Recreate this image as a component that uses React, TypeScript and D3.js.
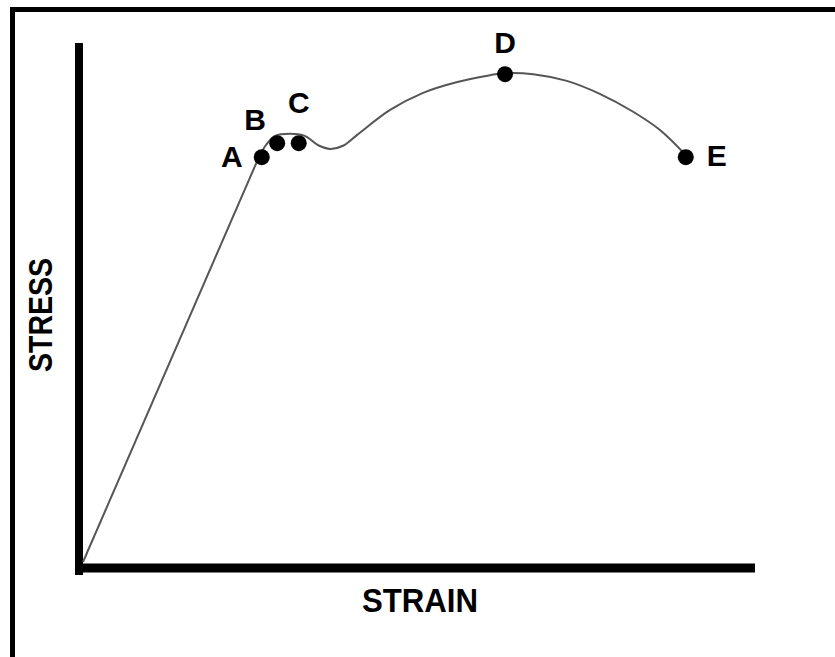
import React from "react";
import { scaleLinear, line, curveCatmullRom } from "d3";

// strain / stress, both as fraction of the axis length
const elasticStrain = [0, 0.26];
const elasticStress = [0, 0.775];

const plasticStrain = [0.26, 0.272, 0.286, 0.308, 0.33, 0.35, 0.368, 0.387, 0.408, 0.457, 0.506, 0.557, 0.606, 0.628, 0.67, 0.72, 0.769, 0.818, 0.859, 0.897];
const plasticStress = [0.775, 0.803, 0.821, 0.825, 0.821, 0.803, 0.796, 0.802, 0.823, 0.871, 0.904, 0.925, 0.938, 0.942, 0.94, 0.927, 0.902, 0.868, 0.832, 0.784];

const pointNames = ["A", "B", "C", "D", "E"];
const pointStrain = [0.266, 0.289, 0.321, 0.628, 0.897];
const pointStress = [0.78, 0.807, 0.807, 0.94, 0.78];

const W = 835;
const H = 657;

export default function App() {
  const x = scaleLinear().domain([0, 1]).range([83, 755]);
  const y = scaleLinear().domain([0, 1]).range([562, 43]);

  const path = line<[number, number]>()
    .x((d) => x(d[0]))
    .y((d) => y(d[1]));
  const smooth = line<[number, number]>()
    .x((d) => x(d[0]))
    .y((d) => y(d[1]))
    .curve(curveCatmullRom.alpha(0.5));

  const elastic = elasticStrain.map((s, i) => [s, elasticStress[i]] as [number, number]);
  const plastic = plasticStrain.map((s, i) => [s, plasticStress[i]] as [number, number]);

  // where each letter sits relative to its dot
  const labelPos: Record<string, { dx: number; dy: number; anchor: string }> = {
    A: { dx: -19, dy: 10, anchor: "end" },
    B: { dx: -22, dy: -13, anchor: "middle" },
    C: { dx: 0, dy: -30, anchor: "middle" },
    D: { dx: 0, dy: -21, anchor: "middle" },
    E: { dx: 21, dy: 9, anchor: "start" },
  };

  const font = "'Liberation Sans', Arial, Helvetica, sans-serif";

  return (
    <svg
      width={W}
      height={H}
      style={{ position: "absolute", left: 0, top: 0, background: "#fff" }}
    >
      {/* frame (top and left only) */}
      <line x1={10} x2={W} y1={9.5} y2={9.5} stroke="#000" strokeWidth={5} />
      <line x1={12.5} x2={12.5} y1={7} y2={H} stroke="#000" strokeWidth={5} />

      {/* axes */}
      <line x1={x(0) - 4} x2={x(0) - 4} y1={y(1)} y2={y(0) + 13} stroke="#000" strokeWidth={8} />
      <line x1={x(0) - 8} x2={x(1)} y1={y(0) + 6} y2={y(0) + 6} stroke="#000" strokeWidth={9} />

      {/* curve */}
      <path d={path(elastic) ?? ""} fill="none" stroke="#555" strokeWidth={2} />
      <path d={smooth(plastic) ?? ""} fill="none" stroke="#555" strokeWidth={2} />

      {pointNames.map((n, i) => {
        const cx = x(pointStrain[i]);
        const cy = y(pointStress[i]);
        const p = labelPos[n];
        return (
          <g key={n}>
            <circle cx={cx} cy={cy} r={8} fill="#000" />
            <text
              x={cx + p.dx}
              y={cy + p.dy}
              textAnchor={p.anchor}
              fontFamily={font}
              fontWeight="bold"
              fontSize={30}
              fill="#000"
            >
              {n}
            </text>
          </g>
        );
      })}

      <text
        x={420}
        y={612}
        textAnchor="middle"
        fontFamily={font}
        fontWeight="bold"
        fontSize={34}
        textLength={116}
        lengthAdjust="spacingAndGlyphs"
      >
        STRAIN
      </text>
      <text
        transform="translate(52,315) rotate(-90)"
        textAnchor="middle"
        fontFamily={font}
        fontWeight="bold"
        fontSize={33}
        textLength={114}
        lengthAdjust="spacingAndGlyphs"
      >
        STRESS
      </text>
    </svg>
  );
}
